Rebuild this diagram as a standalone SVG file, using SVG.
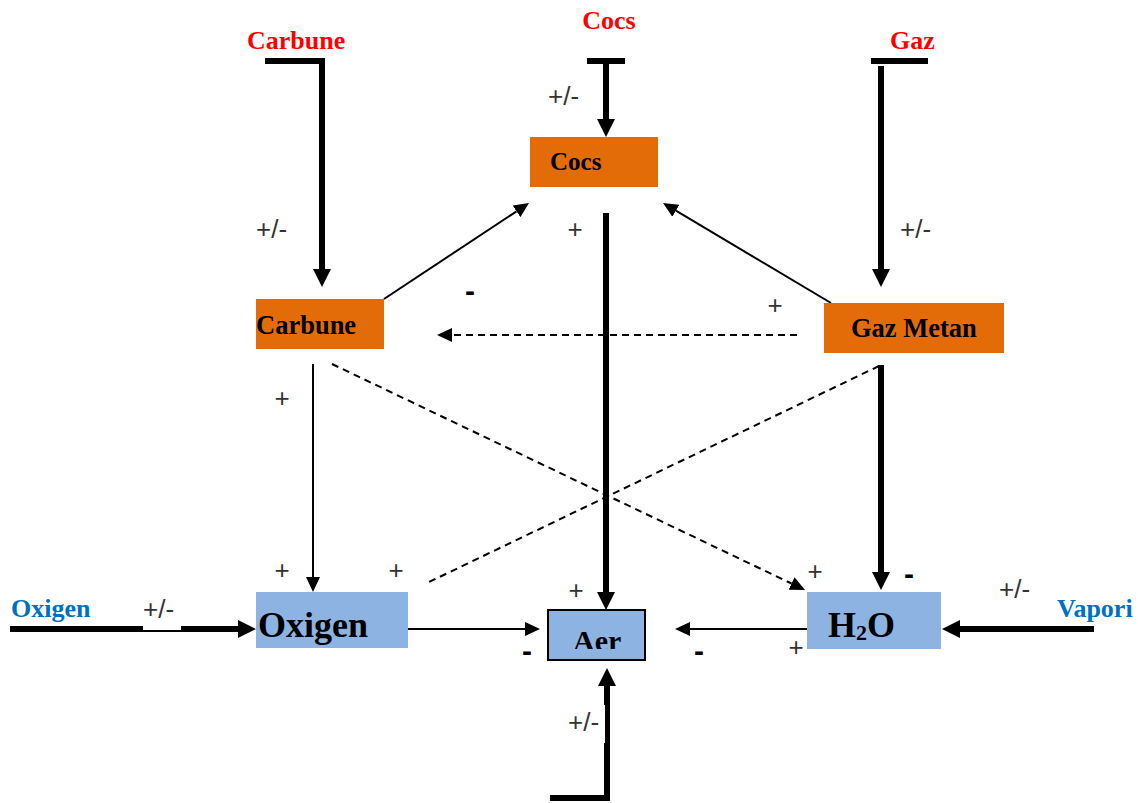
<svg xmlns="http://www.w3.org/2000/svg" width="1138" height="803" viewBox="0 0 1138 803">
<defs>
<style>
.thick{fill:none;stroke:#000;stroke-width:6;stroke-linejoin:miter;}
.thin{fill:none;stroke:#000;stroke-width:2;}
.dash{fill:none;stroke:#000;stroke-width:2;stroke-dasharray:7 5;}
.orange{fill:#E36C09;}
.blue{fill:#8DB3E2;}
.nt{font-family:"Liberation Serif","Times New Roman",serif;font-weight:bold;fill:#000;}
.src{font-family:"Liberation Serif","Times New Roman",serif;font-weight:bold;font-size:26px;}
.red{fill:#FF0000;}
.sb{fill:#0070C0;}
.sg{font-family:"Liberation Sans",Arial,sans-serif;font-size:26px;fill:#333;}
.pl{font-family:"Liberation Sans",Arial,sans-serif;font-size:26px;fill:#333;text-anchor:middle;}
.mn{font-family:"Liberation Sans",Arial,sans-serif;font-size:30px;font-weight:bold;fill:#000;text-anchor:middle;}
</style>
<marker id="hk" viewBox="0 0 18 18" refX="0" refY="9" markerWidth="18" markerHeight="18" markerUnits="userSpaceOnUse" orient="auto"><path d="M0,0 L18,9 L0,18 z" fill="#000" stroke="none"/></marker>
<marker id="hn" viewBox="0 0 15 14" refX="0" refY="7" markerWidth="15" markerHeight="14" markerUnits="userSpaceOnUse" orient="auto"><path d="M0,0 L15,7 L0,14 z" fill="#000" stroke="none"/></marker>
<clipPath id="aerclip"><rect x="548" y="610" width="97" height="39"/></clipPath>
</defs>
<rect x="0" y="0" width="1138" height="803" fill="#fff"/>

<g id="connectors">
  <path class="thick" d="M265,61 H322 V269" marker-end="url(#hk)"/>
  <path class="thick" d="M587,61 H625"/>
  <path class="thick" d="M606,61 V119" marker-end="url(#hk)"/>
  <path class="thick" d="M871,61 H928"/>
  <path class="thick" d="M881,66 V269" marker-end="url(#hk)"/>
  <path class="thin" d="M384,299 L516.5,211.3" marker-end="url(#hn)"/>
  <path class="thin" d="M831,303 L675.9,210.7" marker-end="url(#hn)"/>
  <path class="thick" d="M606,213 V592" marker-end="url(#hk)"/>
  <path class="dash" d="M797,335 H452" marker-end="url(#hn)"/>
  <path class="dash" d="M332,364 L791.5,583.5" marker-end="url(#hn)"/>
  <path class="dash" d="M879,366 L427,583"/>
  <path class="thin" d="M313,364 V577" marker-end="url(#hn)"/>
  <path class="thick" d="M881,365 V572" marker-end="url(#hk)"/>
  <path class="thick" d="M10,629 H238" marker-end="url(#hk)"/>
  <rect x="143" y="600" width="38" height="30" fill="#fff"/>
  <path class="thin" d="M408,629 H525" marker-end="url(#hn)"/>
  <path class="thin" d="M807,629 H690" marker-end="url(#hn)"/>
  <path class="thick" d="M1094,629 H960" marker-end="url(#hk)"/>
  <path class="thick" d="M550,798 H607 V686" marker-end="url(#hk)"/>
  <rect x="566" y="705" width="39" height="38" fill="#fff"/>
</g>

<g id="src-carbune"><text class="src red" x="247" y="49">Carbune</text></g>
<g id="src-cocs"><text class="src red" x="609" y="29" text-anchor="middle">Cocs</text></g>
<g id="src-gaz"><text class="src red" x="890" y="49">Gaz</text></g>
<g id="src-oxigen"><text class="src sb" x="11" y="617">Oxigen</text></g>
<g id="src-vapori"><text class="src sb" x="1057" y="617">Vapori</text></g>

<g id="node-cocs">
  <rect class="orange" x="530" y="137" width="128" height="50"/>
  <text class="nt" x="550" y="170" font-size="25">Cocs</text>
</g>
<g id="node-carbune">
  <rect class="orange" x="256" y="299" width="128" height="50"/>
  <text class="nt" x="256" y="334" font-size="26.5">Carbune</text>
</g>
<g id="node-gazmetan">
  <rect class="orange" x="824" y="303" width="180" height="50"/>
  <text class="nt" x="851" y="337" font-size="26.5">Gaz Metan</text>
</g>
<g id="node-oxigen">
  <rect class="blue" x="256" y="592" width="152" height="56"/>
  <text class="nt" x="258" y="637" font-size="36">Oxigen</text>
</g>
<g id="node-aer">
  <rect class="blue" x="548" y="610" width="97" height="50" stroke="#000" stroke-width="2"/>
  <text class="nt" x="573" y="651" font-size="30" clip-path="url(#aerclip)">Aer</text>
</g>
<g id="node-h2o">
  <rect class="blue" x="807" y="592" width="134" height="57"/>
  <text class="nt" x="828" y="637" font-size="36">H<tspan font-size="22" dy="3">2</tspan><tspan dy="-3">O</tspan></text>
</g>

<g id="labels">
  <text class="sg" x="548" y="105">+/-</text>
  <text class="sg" x="256" y="238">+/-</text>
  <text class="sg" x="900" y="238">+/-</text>
  <text class="sg" x="143" y="618">+/-</text>
  <text class="sg" x="999" y="598">+/-</text>
  <text class="sg" x="568" y="731">+/-</text>
  <text class="pl" x="575" y="238">+</text>
  <text class="pl" x="775" y="314">+</text>
  <text class="pl" x="282" y="407">+</text>
  <text class="pl" x="282" y="579">+</text>
  <text class="pl" x="396" y="579">+</text>
  <text class="pl" x="576" y="599">+</text>
  <text class="pl" x="815" y="580">+</text>
  <text class="pl" x="796" y="656">+</text>
  <text class="mn" x="470" y="301">-</text>
  <text class="mn" x="527" y="661">-</text>
  <text class="mn" x="699" y="661">-</text>
  <text class="mn" x="909" y="584">-</text>
</g>
</svg>
